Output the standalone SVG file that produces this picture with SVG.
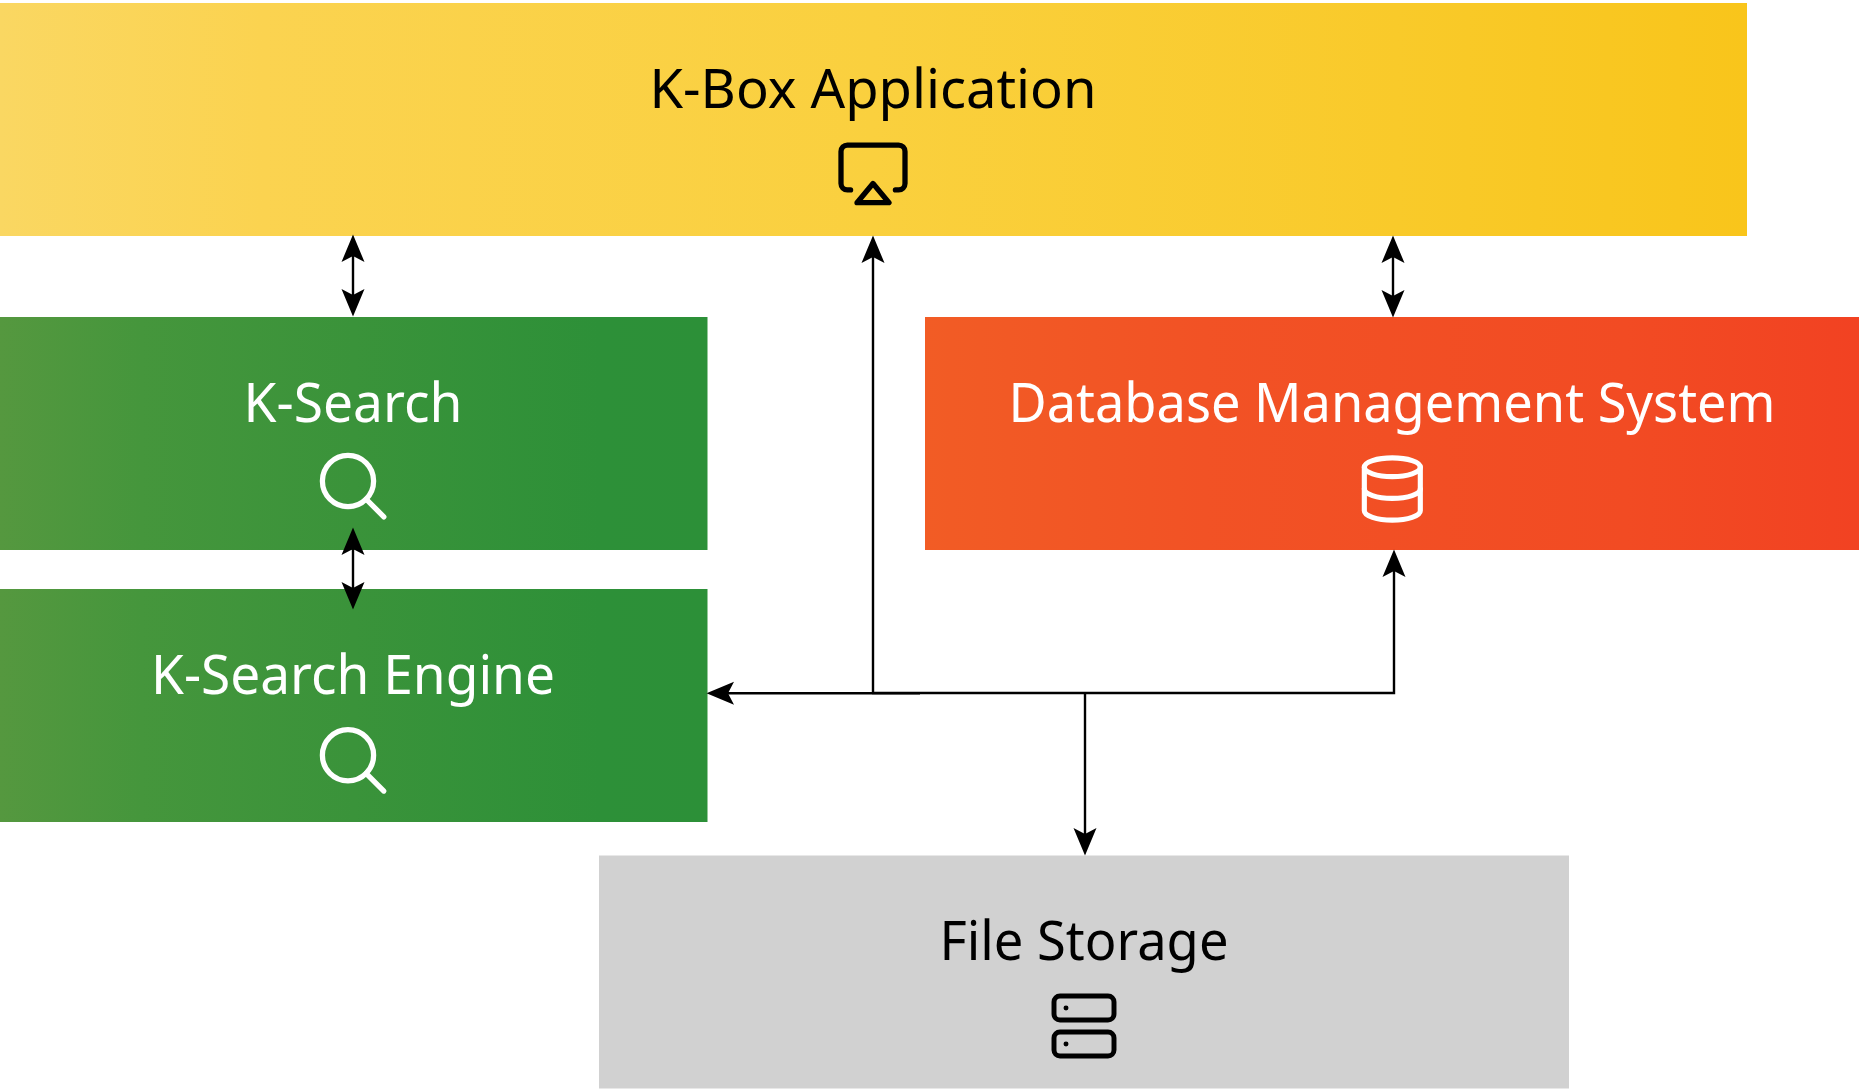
<svg xmlns="http://www.w3.org/2000/svg" width="1859" height="1092" viewBox="0 0 1859 1092">
<style>
text{font-family:"Noto Sans","Open Sans","Liberation Sans",sans-serif;font-size:54px;text-anchor:middle}
.d{fill:#000}.l{fill:#fff}
.ic{fill:none;stroke-width:1.65;stroke-linecap:round;stroke-linejoin:round}
.ik{stroke:#000}.iw{stroke:#fff}
.c{fill:none;stroke:#000;stroke-width:2.4}
</style>
<defs>
<linearGradient id="gy"><stop offset="0" stop-color="#fad762"/><stop offset=".15" stop-color="#fbd350"/><stop offset=".5" stop-color="#fad03e"/><stop offset=".8" stop-color="#f9ca2a"/><stop offset="1" stop-color="#f9c51b"/></linearGradient>
<linearGradient id="gg"><stop offset="0" stop-color="#55983f"/><stop offset=".2" stop-color="#45963c"/><stop offset=".5" stop-color="#3a933a"/><stop offset=".85" stop-color="#2d9038"/><stop offset="1" stop-color="#2c9038"/></linearGradient>
<linearGradient id="go"><stop offset="0" stop-color="#f25c25"/><stop offset=".3" stop-color="#f25225"/><stop offset=".75" stop-color="#f24b23"/><stop offset="1" stop-color="#f24222"/></linearGradient>
<marker id="ae" markerUnits="userSpaceOnUse" markerWidth="28" markerHeight="24" viewBox="0 0 28 24" refX="22" refY="12" orient="auto"><path d="M27.5 12L0 .5L6 12L0 23.5Z" fill="#000"/></marker>
<marker id="as" markerUnits="userSpaceOnUse" markerWidth="28" markerHeight="24" viewBox="0 0 28 24" refX="6" refY="12" orient="auto"><path d="M.5 12L28 .5L22 12L28 23.5Z" fill="#000"/></marker>
</defs>
<g id="kbox">
<rect x="0" y="3" width="1747" height="233" fill="url(#gy)"/>
<text class="d" x="873" y="108" textLength="447" lengthAdjust="spacingAndGlyphs">K-Box Application</text>
<g class="ic ik" transform="translate(834.6 135.5) scale(3.2)"><path d="M5 17H4a2 2 0 0 1-2-2V5a2 2 0 0 1 2-2h16a2 2 0 0 1 2 2v10a2 2 0 0 1-2 2h-1"/><polygon points="12 15 17 21 7 21 12 15"/></g>
</g>
<g id="ksearch">
<rect x="0" y="317" width="707.5" height="233" fill="url(#gg)"/>
<text class="l" x="353" y="421.5" textLength="219" lengthAdjust="spacingAndGlyphs">K-Search</text>
<g class="ic iw" transform="translate(312.8 445.8) scale(3.2)"><circle cx="11" cy="11" r="8"/><line x1="22.2" y1="22.2" x2="16.65" y2="16.65"/></g>
</g>
<g id="ksearch-engine">
<rect x="0" y="589" width="707.5" height="233" fill="url(#gg)"/>
<text class="l" x="353" y="693.5" textLength="404" lengthAdjust="spacingAndGlyphs">K-Search Engine</text>
<g class="ic iw" transform="translate(312.8 720) scale(3.2)"><circle cx="11" cy="11" r="8"/><line x1="22.2" y1="22.2" x2="16.65" y2="16.65"/></g>
</g>
<g id="dbms">
<rect x="925" y="317" width="934" height="233" fill="url(#go)"/>
<text class="l" x="1392" y="421.5" textLength="767" lengthAdjust="spacingAndGlyphs">Database Management System</text>
<g class="ic iw" transform="translate(1355 451.7) scale(3.11)"><ellipse cx="12" cy="5" rx="9" ry="3"/><path d="M21 12c0 1.66-4 3-9 3s-9-1.34-9-3"/><path d="M3 5v14c0 1.66 4 3 9 3s9-1.34 9-3V5"/></g>
</g>
<g id="file-storage">
<rect x="599" y="855.5" width="970" height="233" fill="#d1d1d1"/>
<text class="d" x="1084" y="959.5" textLength="289" lengthAdjust="spacingAndGlyphs">File Storage</text>
<g class="ic ik" transform="translate(1048 990) scale(3)"><rect x="2" y="2" width="20" height="8" rx="2"/><rect x="2" y="14" width="20" height="8" rx="2"/><line x1="6" y1="6" x2="6.01" y2="6"/><line x1="6" y1="18" x2="6.01" y2="18"/></g>
</g>
<g id="connectors">
<path class="c" d="M353 240V311" marker-start="url(#as)" marker-end="url(#ae)"/>
<path class="c" d="M353 533V604" marker-start="url(#as)" marker-end="url(#ae)"/>
<path class="c" d="M1393 241V312" marker-start="url(#as)" marker-end="url(#ae)"/>
<path class="c" d="M873 693V241" marker-end="url(#ae)"/>
<path class="c" d="M920 693.2H712" marker-end="url(#ae)"/>
<path class="c" d="M872 693H1394V555" marker-end="url(#ae)"/>
<path class="c" d="M1085 693V850" marker-end="url(#ae)"/>
</g>
</svg>
